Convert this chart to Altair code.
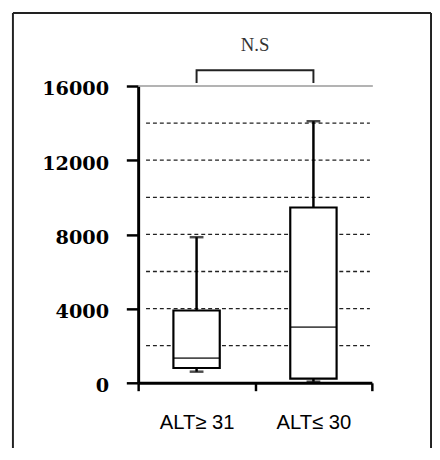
import altair as alt
import pandas as pd

categories = ["ALT≥ 31", "ALT≤ 30"]
mins = [600, 60]
q1s = [800, 230]
medians = [1330, 3000]
q3s = [3900, 9450]
maxs = [7850, 14100]

grid_values = [2000, 4000, 6000, 8000, 10000, 12000, 14000]
tick_values = [0, 2000, 4000, 6000, 8000, 10000, 12000, 14000, 16000]
top_value = 16000
bracket_low = 16160
bracket_high = 16850
label_value = 18180
sig_label = "N.S"

stats = pd.DataFrame({"cat": categories, "min": mins, "q1": q1s,
                      "median": medians, "q3": q3s, "max": maxs})
grid_df = pd.DataFrame({"v": grid_values})
top_df = pd.DataFrame({"v": [top_value]})
bracket_df = pd.DataFrame({
    "cat": [categories[0], categories[0], categories[1], categories[1]],
    "v": [bracket_low, bracket_high, bracket_high, bracket_low],
    "o": [0, 1, 2, 3],
})
label_df = pd.DataFrame({"cat": [categories[1]], "v": [label_value], "t": [sig_label]})
one = pd.DataFrame({"a": [0]})

xscale = alt.Scale(domain=categories, paddingInner=0, paddingOuter=0)
yscale = alt.Scale(domain=[0, 16000], nice=False, zero=True)

x_enc = alt.X("cat:N", scale=xscale, sort=None, title=None,
              axis=alt.Axis(tickBand="extent", tickSize=8, tickWidth=2.5,
                            tickColor="black", domainColor="black", domainWidth=3,
                            labelFont="Liberation Sans", labelFontSize=20.5,
                            labelColor="black", labelPadding=22, labelAngle=0,
                            grid=False))
y_enc_axis = alt.Y("q1:Q", scale=yscale, title=None,
                   axis=alt.Axis(values=tick_values, format="d",
                                 labelExpr="datum.value % 4000 === 0 ? datum.label : ''",
                                 tickSize=12, tickWidth=2.5, tickColor="black",
                                 domainColor="black", domainWidth=3,
                                 labelFont="DejaVu Serif", labelFontWeight="bold",
                                 labelFontSize=19.5, labelColor="black",
                                 labelPadding=18, labelOffset=3, grid=False))

border_color = "#222222"
frame_top = alt.Chart(one).mark_rule(color=border_color, strokeWidth=2).encode(
    x=alt.value(-127), x2=alt.value(297), y=alt.value(-74))
frame_left = alt.Chart(one).mark_rule(color=border_color, strokeWidth=2).encode(
    x=alt.value(-127), y=alt.value(-74), y2=alt.value(380))
frame_right = alt.Chart(one).mark_rule(color=border_color, strokeWidth=2).encode(
    x=alt.value(297), y=alt.value(-74), y2=alt.value(380))

top_line = alt.Chart(top_df).mark_rule(color="#9a9a9a", strokeWidth=1.5).encode(
    y=alt.Y("v:Q", scale=yscale), x=alt.value(0), x2=alt.value(238))

grid = alt.Chart(grid_df).mark_rule(color="#222222", strokeWidth=1.3,
                                    strokeDash=[4, 3]).encode(
    y=alt.Y("v:Q", scale=yscale), x=alt.value(8), x2=alt.value(235))

whisk_low = alt.Chart(stats).mark_rule(color="black", strokeWidth=2.5).encode(
    x=x_enc, y=alt.Y("min:Q", scale=yscale), y2="q1:Q")
whisk_high = alt.Chart(stats).mark_rule(color="black", strokeWidth=2.5).encode(
    x=x_enc, y=alt.Y("q3:Q", scale=yscale), y2="max:Q")

box = alt.Chart(stats).mark_bar(size=47, fill="white", stroke="black",
                                strokeWidth=2.2).encode(
    x=x_enc, y=y_enc_axis, y2="q3:Q")

median = alt.Chart(stats).mark_tick(size=47, thickness=1.6, color="black").encode(
    x=x_enc, y=alt.Y("median:Q", scale=yscale))

cap_low = alt.Chart(stats).mark_tick(size=14, thickness=2.5, color="black").encode(
    x=x_enc, y=alt.Y("min:Q", scale=yscale))
cap_high = alt.Chart(stats).mark_tick(size=14, thickness=2.5, color="black").encode(
    x=x_enc, y=alt.Y("max:Q", scale=yscale))

bracket = alt.Chart(bracket_df).mark_line(color="#222222", strokeWidth=2).encode(
    x=x_enc, y=alt.Y("v:Q", scale=yscale), order="o:Q")

label = alt.Chart(label_df).mark_text(font="Liberation Serif", fontSize=19,
                                      color="#333333", baseline="middle",
                                      align="center").encode(
    x=alt.X("cat:N", scale=xscale, bandPosition=0),
    y=alt.Y("v:Q", scale=yscale), text="t:N")

chart = alt.layer(
    frame_top, frame_left, frame_right, top_line, grid,
    whisk_low, whisk_high, box, median, cap_low, cap_high, bracket, label
).properties(
    width=237, height=301,
    autosize=alt.AutoSizeParams(type="none"),
    padding={"left": 132, "top": 76, "right": 61, "bottom": 63},
    background="white",
).configure_view(stroke=None)

chart.save("out.html", embed_options={"renderer": "svg", "actions": False})
